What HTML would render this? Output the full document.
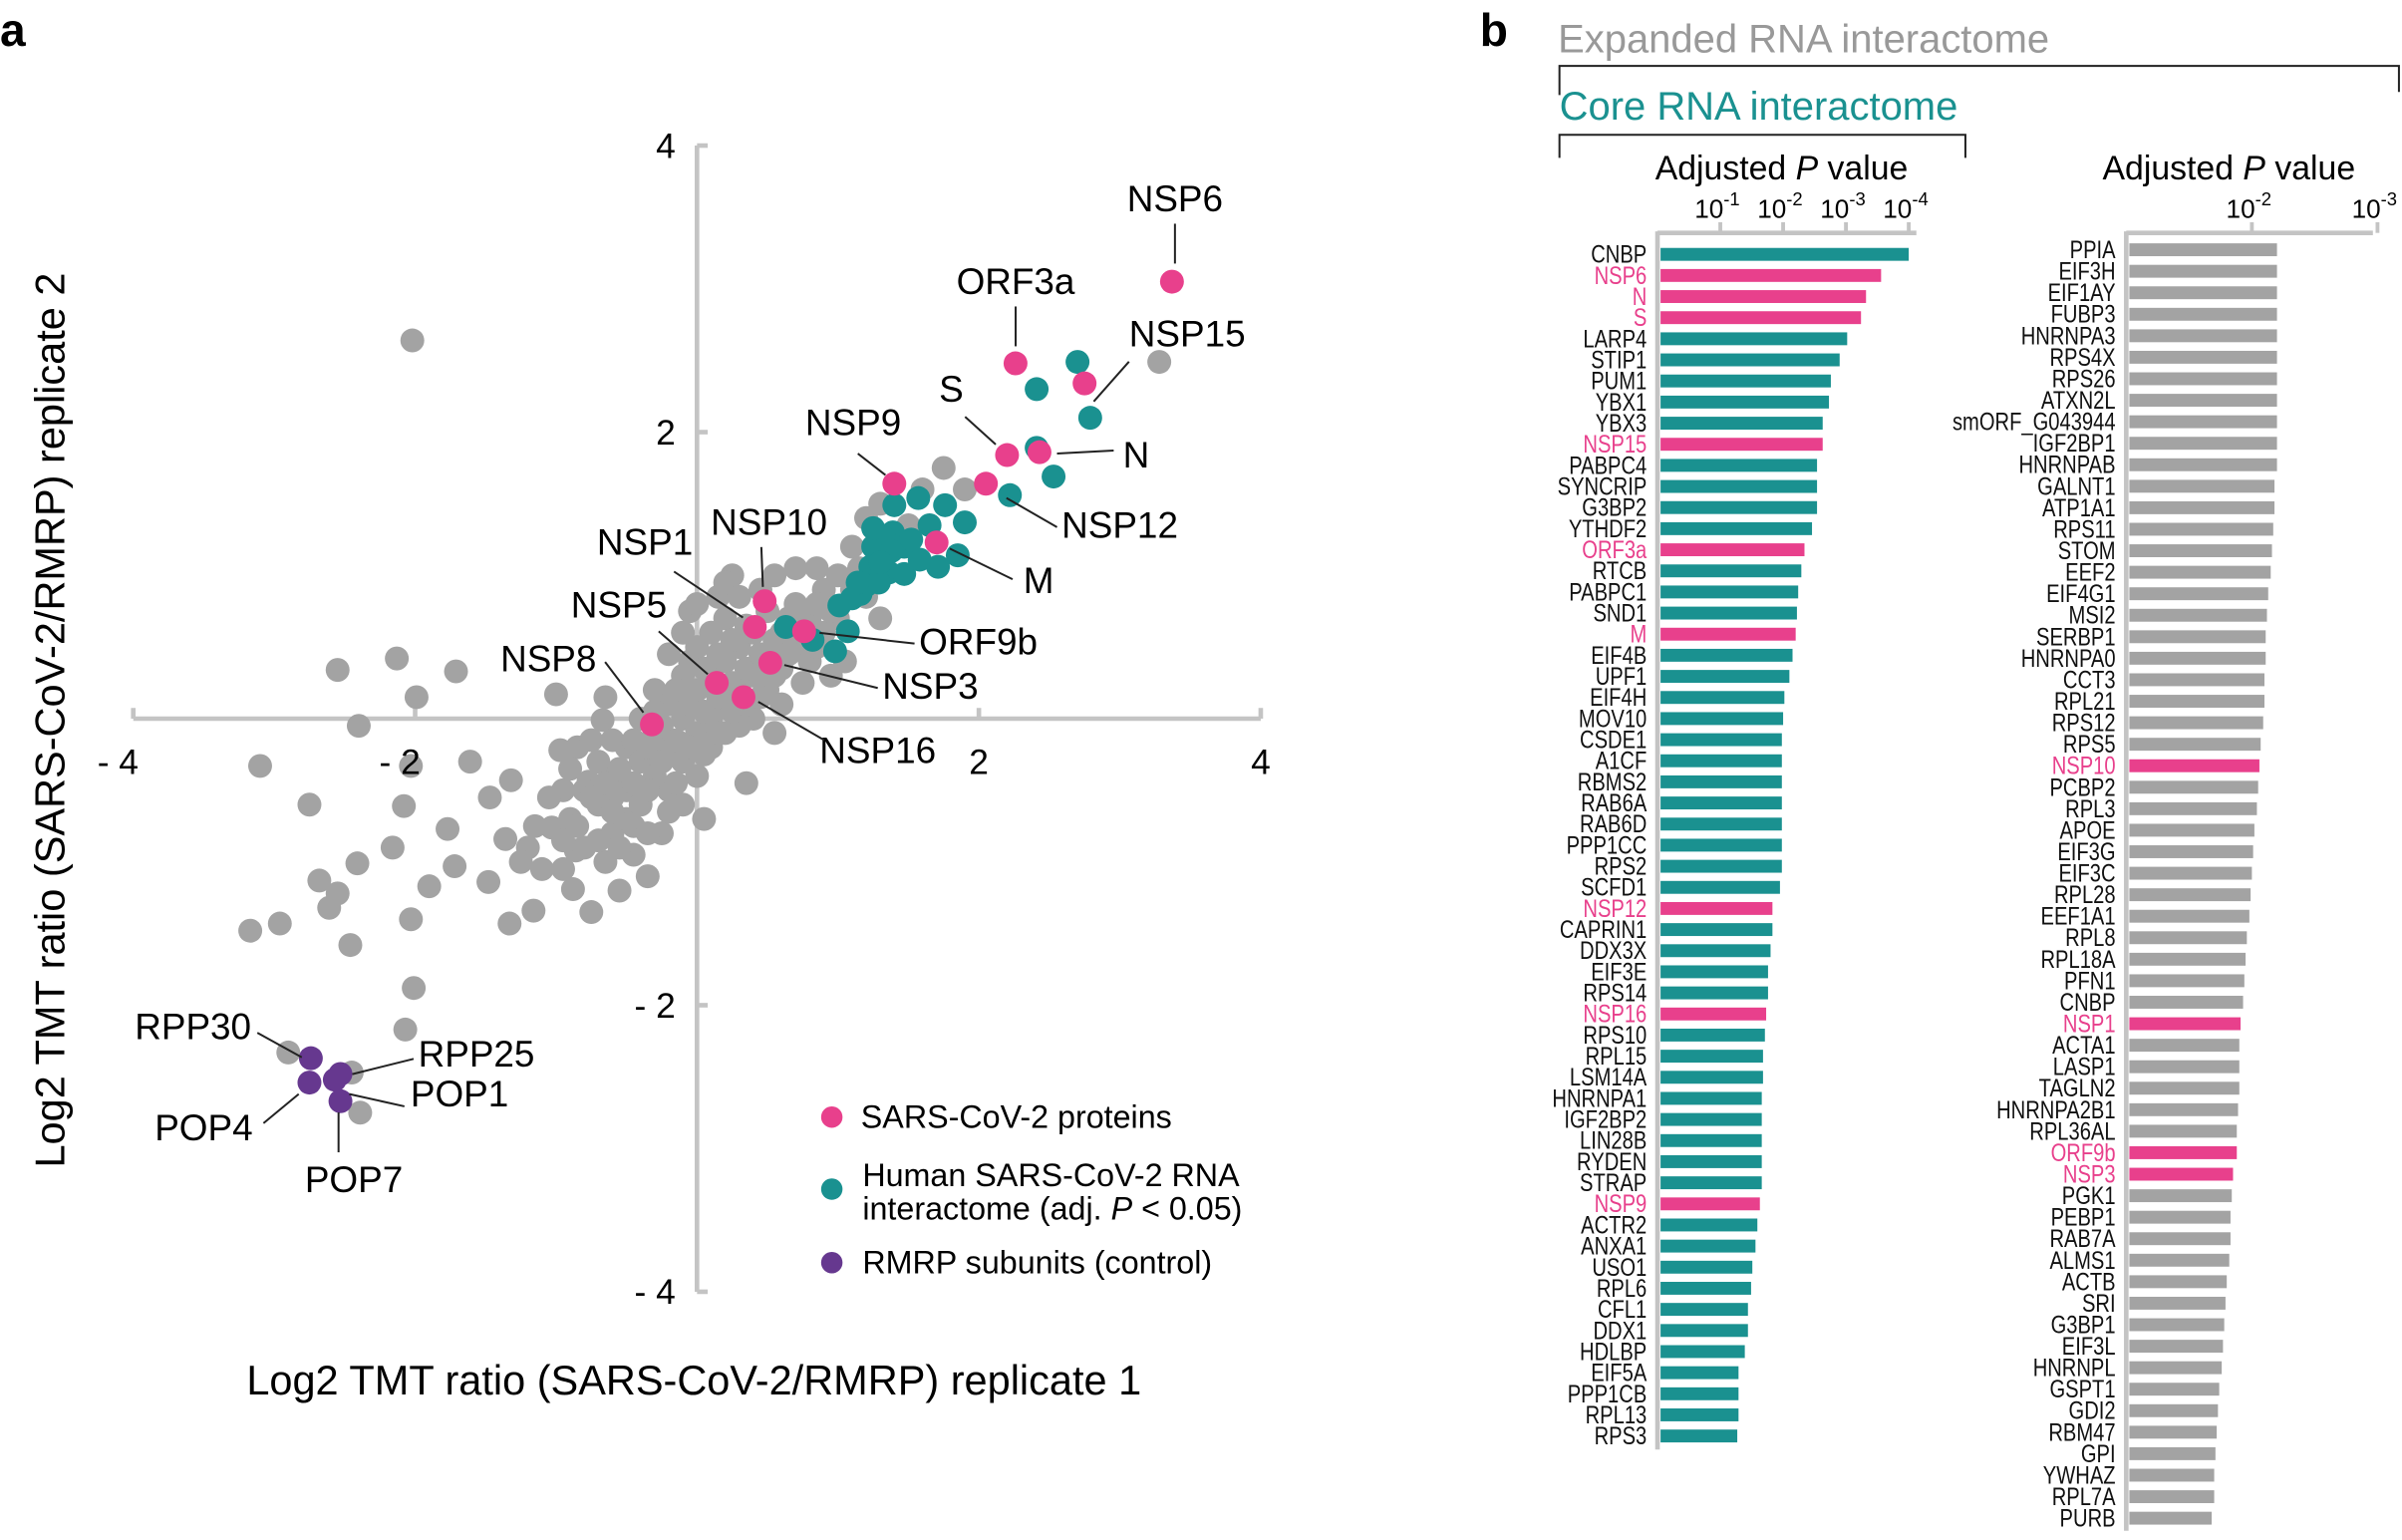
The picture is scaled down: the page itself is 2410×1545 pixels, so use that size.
<!DOCTYPE html>
<html><head><meta charset="utf-8"><style>
html,body{margin:0;padding:0;background:#fff;}
svg{display:block;font-family:"Liberation Sans",Arial,sans-serif;}
</style></head><body>
<svg id="root" width="2410" height="1545" viewBox="0 0 1568 1005" preserveAspectRatio="none" xmlns="http://www.w3.org/2000/svg">
<text x="0" y="30" font-size="30" font-weight="bold">a</text>
<text x="966" y="30" font-size="30" font-weight="bold">b</text>
<g id="scatter"></g>
<g id="bars"></g>
</svg>
<script>
const NS='http://www.w3.org/2000/svg';
const grayPts=[[-2.02,2.64],[3.28,2.49],[-2.55,0.34],[-2.13,0.42],[-1.71,0.33],[-1.99,0.15],[-2.40,-0.05],[-3.10,-0.33],[-2.75,-0.60],[-2.08,-0.61],[-2.03,-0.33],[-1.61,-0.30],[-1.32,-0.43],[-0.97,-0.22],[-1.00,0.17],[-0.67,-0.01],[-3.17,-1.48],[-2.96,-1.43],[-2.61,-1.32],[-2.68,-1.13],[-2.41,-1.01],[-2.16,-0.90],[-2.46,-1.58],[-2.03,-1.40],[-2.55,-1.22],[-2.01,-1.88],[-2.07,-2.17],[-2.45,-2.47],[-2.39,-2.75],[-2.90,-2.33],[-1.90,-1.17],[-1.72,-1.03],[-1.48,-1.14],[-1.16,-1.34],[-1.33,-1.43],[-1.20,-0.90],[-1.36,-0.84],[-1.77,-0.77],[-1.47,-0.55],[-0.88,-1.19],[-0.86,-0.92],[-1.03,-0.76],[-0.60,-0.55],[-0.77,-0.44],
[-0.9,-0.7],[-0.8,-0.5],[-0.8,-0.9],[-0.7,-0.6],[-0.7,-0.3],[-0.6,-0.8],[-0.6,-0.4],[-0.5,-0.5],[-0.5,-0.2],[-0.5,-0.7],[-0.4,-0.3],[-0.4,-0.6],[-0.4,0.0],[-0.3,-0.4],[-0.3,-0.1],[-0.3,0.2],[-0.2,-0.2],[-0.2,-0.5],[-0.2,0.1],[-0.1,-0.3],[-0.1,0.0],[-0.1,0.3],[-0.1,-0.6],[0.0,-0.1],[0.0,0.2],[0.0,0.5],[0.0,-0.4],[0.1,0.0],[0.1,0.3],[0.1,-0.2],[0.1,0.6],[0.2,0.1],[0.2,0.4],[0.2,-0.1],[0.2,0.7],[0.3,0.2],[0.3,0.5],[0.3,-0.05],[0.4,0.3],[0.4,0.0],[0.4,0.6],[0.5,0.2],[0.5,0.45],[0.5,0.75],[0.6,0.35],[0.6,0.6],[0.6,0.1],[0.7,0.5],[0.7,0.8],[0.8,0.4],[0.8,0.7],[0.9,0.6],[0.9,0.9],[1.0,0.7],[1.0,1.0],[1.1,1.2],[1.2,1.4],[1.3,1.5],[1.5,1.35],[1.6,1.6],[1.75,1.75],[1.9,1.6],[-0.85,-0.2],[-0.65,-1.0],[-0.35,-1.1],[-0.55,-1.2],[-0.25,-0.8],[0.05,-0.7],[0.35,-0.45],[-0.95,-1.05],[0.25,1.0],[0.45,0.9],[-0.05,0.75],[0.75,0.25],[1.05,0.4],[0.15,0.85],[-0.2,0.45],[-0.75,-1.35],[-1.1,-1.05],[-0.45,-0.95],[0.55,-0.1],[0.95,0.3],[1.2,0.85],
[-0.95,-0.5],[-0.9,-0.35],[-0.85,-0.75],[-0.75,-0.15],[-0.75,-0.55],[-0.7,-0.85],[-0.65,-0.45],[-0.6,-0.15],[-0.6,-0.65],[-0.55,-0.35],[-0.55,-0.9],[-0.45,-0.15],[-0.45,-0.45],[-0.45,-0.75],[-0.35,-0.2],[-0.35,-0.5],[-0.35,-0.8],[-0.3,0.05],[-0.25,-0.3],[-0.25,-0.05],[-0.2,-0.65],[-0.15,-0.15],[-0.15,0.2],[-0.15,-0.45],[-0.05,-0.2],[-0.05,0.1],[-0.05,0.4],[0.05,0.05],[0.05,0.35],[0.05,-0.25],[0.15,0.15],[0.15,0.45],[0.15,-0.1],[0.25,0.25],[0.25,0.55],[0.25,0.05],[0.35,0.35],[0.35,0.65],[0.35,0.1],[0.45,0.45],[0.45,0.15],[0.55,0.55],[0.55,0.3],[0.65,0.45],[0.65,0.7],[0.75,0.6],[0.85,0.8],[0.85,0.5],[0.95,0.75],[1.1,0.9],[1.15,1.05],[-1.05,-0.55],[-1.15,-0.75],[-0.95,-0.85],[-1.25,-1.0],[0.0,0.8],[0.2,0.95],[0.3,0.85],[-0.1,0.6],[0.7,1.05],[0.85,1.05],[0.55,1.0],[1.3,0.7],[-0.65,0.15]];
const tealPts=[[2.70,2.49],[2.41,2.30],[2.79,2.10],[2.41,1.89],[2.53,1.69],[2.22,1.56],[1.90,1.37],[1.85,1.14],[1.57,1.54],[1.40,1.49],[1.39,1.30],[1.33,1.26],[1.47,1.20],[1.25,1.20],[1.23,1.06],[1.36,1.02],[1.20,0.93],[1.29,0.95],[1.16,0.87],[1.10,0.84],[1.47,1.01],[1.58,1.11],[1.71,1.06],[1.65,1.35],[1.52,1.25],[1.38,1.17],[1.14,0.95],[1.01,0.79],[0.63,0.64],[0.82,0.55],[0.98,0.47],[1.07,0.61],[1.30,1.09],[1.25,1.33],[1.76,1.49]];
const purplePts=[[-2.74,-2.37],[-2.53,-2.48],[-2.75,-2.54],[-2.57,-2.52],[-2.53,-2.67]];
const pinkNames=['NSP6','ORF3a','NSP15','S','N','NSP12','NSP9','M','NSP10','NSP1','ORF9b','NSP3','NSP5','NSP16','NSP8'];
const pinkX=[3.37,2.26,2.75,2.20,2.43,2.05,1.40,1.70,0.48,0.41,0.76,0.52,0.14,0.33,-0.32];
const pinkY=[3.05,2.48,2.34,1.84,1.86,1.64,1.64,1.23,0.82,0.64,0.61,0.39,0.25,0.15,-0.04];
const xTicks=[-4,-2,2,4];
const yTicks=[4,2,-2,-4];

const coreNames=['CNBP','NSP6','N','S','LARP4','STIP1','PUM1','YBX1','YBX3','NSP15','PABPC4','SYNCRIP','G3BP2','YTHDF2','ORF3a','RTCB','PABPC1','SND1','M','EIF4B','UPF1','EIF4H','MOV10','CSDE1','A1CF','RBMS2','RAB6A','RAB6D','PPP1CC','RPS2','SCFD1','NSP12','CAPRIN1','DDX3X','EIF3E','RPS14','NSP16','RPS10','RPL15','LSM14A','HNRNPA1','IGF2BP2','LIN28B','RYDEN','STRAP','NSP9','ACTR2','ANXA1','USO1','RPL6','CFL1','DDX1','HDLBP','EIF5A','PPP1CB','RPL13','RPS3'];
const coreNegLogP=[4.0,3.56,3.32,3.24,3.02,2.9,2.76,2.73,2.63,2.63,2.54,2.54,2.54,2.46,2.34,2.29,2.24,2.22,2.20,2.15,2.1,2.02,2.0,1.98,1.98,1.98,1.98,1.98,1.98,1.98,1.95,1.83,1.83,1.8,1.76,1.76,1.73,1.71,1.68,1.68,1.66,1.66,1.66,1.66,1.66,1.63,1.59,1.56,1.51,1.49,1.44,1.44,1.39,1.29,1.29,1.29,1.27];
const coreTicks=[1,2,3,4];
const expNames=['PPIA','EIF3H','EIF1AY','FUBP3','HNRNPA3','RPS4X','RPS26','ATXN2L','smORF_G043944','IGF2BP1','HNRNPAB','GALNT1','ATP1A1','RPS11','STOM','EEF2','EIF4G1','MSI2','SERBP1','HNRNPA0','CCT3','RPL21','RPS12','RPS5','NSP10','PCBP2','RPL3','APOE','EIF3G','EIF3C','RPL28','EEF1A1','RPL8','RPL18A','PFN1','CNBP','NSP1','ACTA1','LASP1','TAGLN2','HNRNPA2B1','RPL36AL','ORF9b','NSP3','PGK1','PEBP1','RAB7A','ALMS1','ACTB','SRI','G3BP1','EIF3L','HNRNPL','GSPT1','GDI2','RBM47','GPI','YWHAZ','RPL7A','PURB'];
const expNegLogP=[2.20,2.20,2.20,2.20,2.20,2.20,2.20,2.20,2.20,2.20,2.20,2.18,2.18,2.17,2.16,2.15,2.13,2.12,2.11,2.11,2.10,2.10,2.09,2.07,2.06,2.05,2.04,2.02,2.01,2.00,1.99,1.98,1.96,1.95,1.94,1.93,1.91,1.90,1.90,1.90,1.89,1.88,1.88,1.85,1.84,1.83,1.83,1.82,1.80,1.79,1.78,1.77,1.76,1.74,1.73,1.72,1.71,1.70,1.70,1.68];
const expTicks=[2,3];
const viral=new Set(['NSP1','NSP3','NSP5','NSP6','NSP8','NSP9','NSP10','NSP12','NSP15','NSP16','N','S','M','ORF3a','ORF9b']);

const PINK='#e8408c',TEAL='#1a9190',GRAY='#a3a3a3',PURP='#66388f',AX='#c4c4c4';
function el(tag,attrs,parent,txt){const e=document.createElementNS(NS,tag);for(const k in attrs)e.setAttribute(k,attrs[k]);if(txt!==undefined)e.textContent=txt;parent.appendChild(e);return e;}

// ---------- scatter ----------
const sc=document.getElementById('scatter');
const sx=v=>455+v*92, sy=v=>469-v*93.5;
let ax=el('line',{x1:sx(-4),x2:sx(4),y1:sy(0),y2:sy(0),stroke:AX,'stroke-width':3},sc);

let ay=el('line',{x1:sx(0),x2:sx(0),y1:sy(4),y2:sy(-4),stroke:AX,'stroke-width':3},sc);

const tickG=el('g',{},sc);
xTicks.forEach(t=>{el('line',{x1:sx(t),x2:sx(t),y1:sy(0),y2:sy(0)-7,stroke:AX,'stroke-width':3},sc);});
yTicks.forEach(t=>{el('line',{x1:sx(0),x2:sx(0)+7,y1:sy(t),y2:sy(t),stroke:AX,'stroke-width':3},sc);});
function dot(p,c,name){const d=el('circle',{cx:sx(p[0]),cy:sy(p[1]),r:7.8,fill:c},sc);}
grayPts.forEach(p=>dot(p,GRAY,'protein-point'));
tealPts.forEach(p=>dot(p,TEAL,'interactome-point'));
purplePts.forEach(p=>dot(p,PURP,'rmrp-point'));
pinkX.forEach((x,i)=>dot([x,pinkY[i]],PINK,'viral-protein-point'));
xTicks.forEach(t=>{const lab=el('text',{x:sx(t)+(t<0?-10:0),y:505,'font-size':23,'text-anchor':'middle'},sc,t<0?'- '+(-t):String(t));
 });
yTicks.forEach(t=>{const lab=el('text',{x:441,y:sy(t)+8,'font-size':23,'text-anchor':'end'},sc,t<0?'- '+(-t):String(t));
 });
const ann=[['NSP6',767,138,'middle',767,146,767,172],['ORF3a',663,192,'middle',663,200,663,226],['NSP15',737,226,'start',737,236,714,262],['S',621,262,'middle',630,272,650,290],['N',733,305,'start',727,294,690,296],['NSP12',693,351,'start',690,344,657,325],['NSP9',557,284,'middle',560,296,578,310],['M',668,387,'start',661,378,620,358],['NSP10',502,349,'middle',497,357,498,383],['NSP1',421,362,'middle',440,373,485,403],['ORF9b',600,427,'start',597,420,535,413],['NSP3',576,456,'start',573,449,512,434],['NSP5',404,403,'middle',430,412,462,440],['NSP16',535,498,'start',538,483,495,458],['NSP8',358,438,'middle',395,432,420,465],
['RPP30',126,678,'middle',168,674,197,690],['RPP25',273,696,'start',270,691,230,701],['POP1',268,722,'start',264,722,228,714],['POP4',133,744,'middle',172,733,195,714],['POP7',231,778,'middle',221,752,221,726]];
ann.forEach(a=>{const t=el('text',{x:a[1],y:a[2],'font-size':24,'text-anchor':a[3]},sc,a[0]);
 
 el('line',{x1:a[4],y1:a[5],x2:a[6],y2:a[7],stroke:'#222','stroke-width':1.3},sc);});
let xt=el('text',{x:453,y:910,'font-size':27,'text-anchor':'middle'},sc,'Log2 TMT ratio (SARS-CoV-2/RMRP) replicate 1');

let yt=el('text',{x:0,y:0,'font-size':27,'text-anchor':'middle',transform:'translate(42,470) rotate(-90)'},sc,'Log2 TMT ratio (SARS-CoV-2/RMRP) replicate 2');

const lg=el('g',{},sc);
el('circle',{cx:543,cy:729,r:7,fill:PINK},lg);el('text',{x:562,y:736,'font-size':21},lg,'SARS-CoV-2 proteins');
el('circle',{cx:543,cy:776,r:7,fill:TEAL},lg);el('text',{x:563,y:774,'font-size':21},lg,'Human SARS-CoV-2 RNA');
const t2=el('text',{x:563,y:796,'font-size':21},lg,'interactome (adj. ');el('tspan',{'font-style':'italic'},t2,'P');el('tspan',{},t2,' < 0.05)');
el('circle',{cx:543,cy:824,r:7,fill:PURP},lg);el('text',{x:563,y:831,'font-size':21},lg,'RMRP subunits (control)');

// ---------- bars ----------
const bg=document.getElementById('bars');
let e1=el('text',{x:1017,y:34,'font-size':26,fill:'#999'},bg,'Expanded RNA interactome');
el('polyline',{points:'1018,62 1018,43 1566,43 1566,60',fill:'none',stroke:'#222','stroke-width':1.3},bg);
let e2=el('text',{x:1018,y:78,'font-size':26,fill:TEAL},bg,'Core RNA interactome');
el('polyline',{points:'1018,103 1018,88 1283,88 1283,103',fill:'none',stroke:'#222','stroke-width':1.3},bg);
function axTitle(cx){const t=el('text',{x:cx,y:117,'font-size':22,'text-anchor':'middle'},bg,'Adjusted ');el('tspan',{'font-style':'italic'},t,'P');el('tspan',{},t,' value');}
axTitle(1163);axTitle(1455);
function panel(names,vals,ticks,x0,v0,pxPer,top,step,color,axEnd,axBottom,nm){
 const X=v=>x0+(v-v0)*pxPer;
 el('line',{x1:x0,x2:axEnd,y1:152,y2:152,stroke:AX,'stroke-width':3},bg);
 el('line',{x1:x0,x2:x0,y1:151,y2:axBottom,stroke:AX,'stroke-width':3},bg);
 ticks.forEach(t=>{el('line',{x1:X(t),x2:X(t),y1:152,y2:145,stroke:AX,'stroke-width':2.5},bg);
  const tx=el('text',{x:X(t)-2,y:142,'font-size':17,'text-anchor':'middle'},bg,'10');
  el('tspan',{dy:-8,'font-size':12},tx,'-'+t);
  });
 names.forEach((n,i)=>{const y=top+i*step;const v=viral.has(n);
  const r=el('rect',{x:x0+2,y:y-4.2,width:Math.max(0,X(vals[i])-x0-2),height:8.4,fill:v?PINK:color},bg);
  
  const t=el('text',{'font-size':16,'text-anchor':'end',fill:v?PINK:'#111',transform:`translate(${x0-7},${y+5.5}) scale(0.82,1)`},bg,n);
  });
}
panel(coreNames,coreNegLogP,coreTicks,1082,0,41,166,13.77,TEAL,1251,946,'core');
panel(expNames,expNegLogP,expTicks,1388,1,82,163,14.03,GRAY,1549,999,'expanded');
</script>
</body></html>
